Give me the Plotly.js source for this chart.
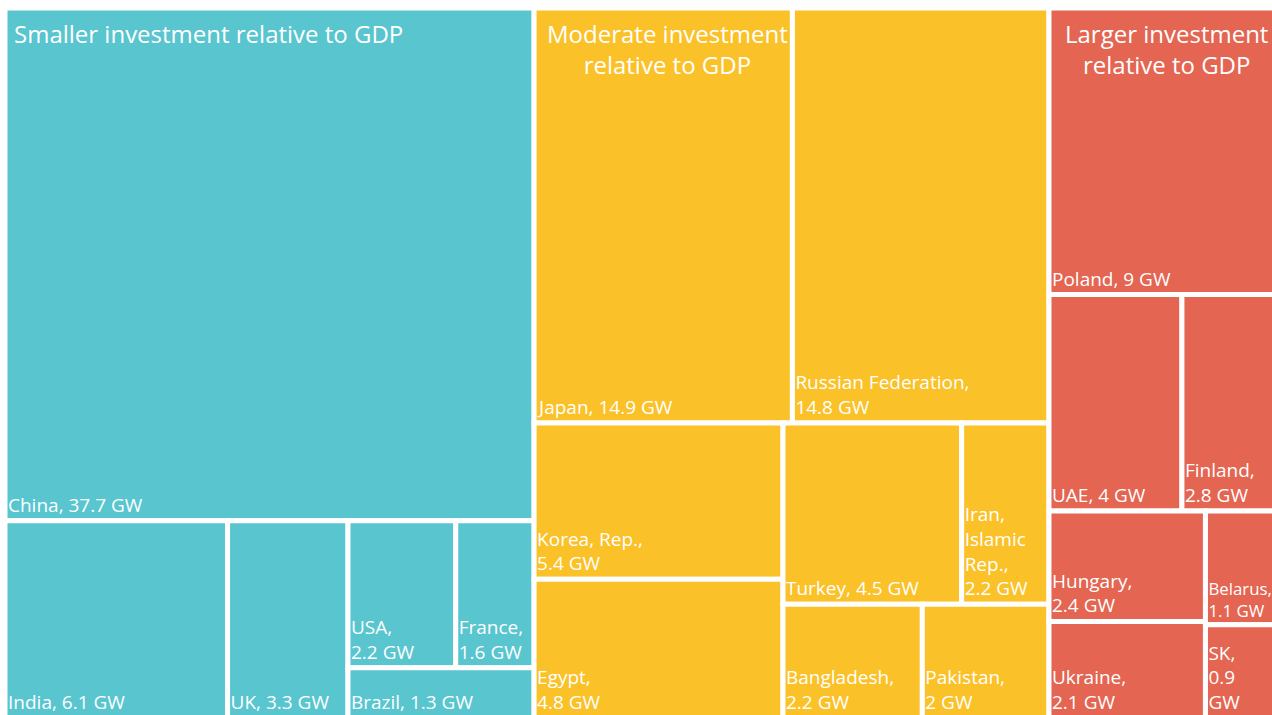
<!DOCTYPE html>
<html><head><meta charset="utf-8">
<script src="https://cdn.plot.ly/plotly-3.0.1.min.js"></script>
<style>html,body{margin:0;padding:0;background:#fff;overflow:hidden}#wrap{width:1272px;height:715px;overflow:hidden;position:relative}#chart{width:1275px;height:718px;position:absolute;left:0;top:0}</style>
</head><body><div id="wrap"><div id="chart"></div></div>
<script>
// ---- data ----
const groupNames = ["Smaller investment relative to GDP", "Moderate investment relative to GDP", "Larger investment relative to GDP"];
const groupHeaderText = ["Smaller investment relative to GDP", "Moderate investment<br>relative to GDP", "Larger investment<br>relative to GDP"];
const groupColors = ["#58C5CF", "#FBC128", "#E36552"];

const countries = ["China","India","UK","USA","France","Brazil",
  "Japan","Russian Federation","Korea, Rep.","Egypt","Turkey","Iran, Islamic Rep.","Bangladesh","Pakistan",
  "Poland","UAE","Finland","Hungary","Ukraine","Belarus","SK"];
const countryGroup = [0,0,0,0,0,0, 1,1,1,1,1,1,1,1, 2,2,2,2,2,2,2];
const capacityGW = [37.7,6.1,3.3,2.2,1.6,1.3, 14.9,14.8,5.4,4.8,4.5,2.2,2.2,2.0, 9,4,2.8,2.4,2.1,1.1,0.9];

// labels that wrap after the comma in the reference
const wrapAfterName = ["USA","France","Russian Federation","Korea, Rep.","Egypt","Iran, Islamic Rep.","Bangladesh","Pakistan","Finland","Hungary","Ukraine","Belarus","SK"];
const nameDisplay = {"Iran, Islamic Rep.": "Iran,<br>Islamic<br>Rep."};
const unitOnOwnLine = ["SK"];

// ---- build treemap ----
const ids = [], labels = [], parents = [], values = [], colors = [], texts = [];
groupNames.forEach((g, i) => {
  ids.push("g" + i); labels.push(g); parents.push(""); values.push(0);
  colors.push(groupColors[i]); texts.push("");
});
countries.forEach((c, i) => {
  const name = (nameDisplay[c] || c) + ",";
  const sep = wrapAfterName.includes(c) ? "<br>" : " ";
  const unitSep = unitOnOwnLine.includes(c) ? "<br>" : " ";
  ids.push("c" + i); labels.push(c); parents.push("g" + countryGroup[i]);
  values.push(capacityGW[i]); colors.push(groupColors[countryGroup[i]]);
  texts.push(name + sep + capacityGW[i] + unitSep + "GW");
});

const trace = {
  type: "treemap",
  ids, labels, parents, values,
  branchvalues: "remainder",
  sort: true,
  text: texts,
  texttemplate: "%{text}",
  textposition: "bottom left",
  textfont: {family: "Open Sans, sans-serif", size: 19, color: "#ffffff"},
  marker: {colors: colors, line: {width: 5, color: "#ffffff"}, pad: {t: 0, l: 0, r: 0, b: 0}},
  tiling: {packing: "squarify", squarifyratio: 1.2, pad: 0},
  pathbar: {visible: false},
  leaf: {opacity: 1},
  root: {color: "#ffffff"},
  hoverinfo: "skip"
};

const W = 1275, H = 718, mL = 5, mT = 8;
const headerX = [12, 667, 1166];
const headerAnchor = ["left", "center", "center"];
const annotations = groupHeaderText.map((t, i) => ({
  text: t, showarrow: false, xref: "paper", yref: "paper",
  x: (headerX[i] - mL) / (W - mL), y: 1 - (15 - mT) / (H - mT),
  xanchor: headerAnchor[i], yanchor: "top", align: "center",
  font: {family: "Open Sans, sans-serif", size: 24, color: "#ffffff"}
}));

Plotly.newPlot("chart", [trace], {
  width: W, height: H,
  margin: {l: mL, r: 0, t: mT, b: 0, pad: 0},
  paper_bgcolor: "#ffffff",
  annotations: annotations,
  showlegend: false
}, {displayModeBar: false, staticPlot: true});
</script></body></html>
